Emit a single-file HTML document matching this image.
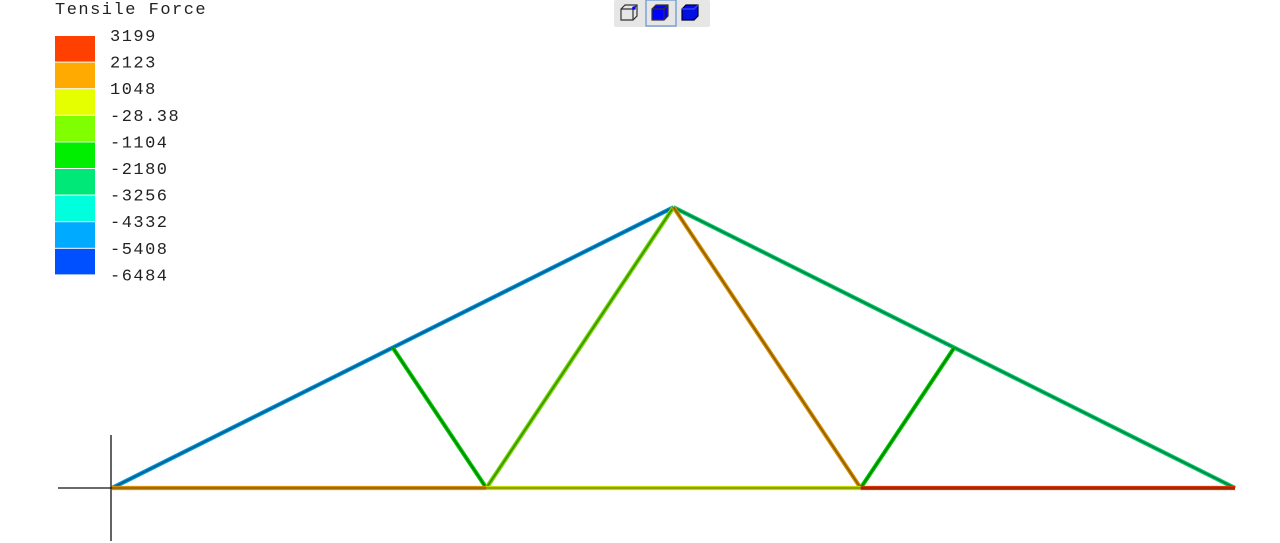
<!DOCTYPE html>
<html><head><meta charset="utf-8"><style>
html,body{margin:0;padding:0;background:#fff;width:1280px;height:543px;overflow:hidden}
svg{display:block}
text{font-family:"Liberation Mono",monospace;font-size:17px;letter-spacing:1.5px;fill:#222}
</style></head><body>
<svg id="chart" width="1280" height="543">
  <g>
    <rect x="614" y="0" width="96" height="27" fill="#e6e6e6" rx="2"/>
    <g>
      <path d="M621 9 L625 5 L637 5 L637 16 L633 20 L621 20 Z M621 9 L633 9 L637 5 M633 9 L633 20" fill="none" stroke="#333" stroke-width="1.2"/>
      <circle cx="634" cy="8" r="1.8" fill="#00f"/>
    </g>
    <g>
      <rect x="646" y="0" width="30" height="26" fill="none" stroke="#6a9ad0" stroke-width="1.3"/>
      <path d="M652 9 L656 5 L668 5 L668 16 L664 20 L652 20 Z" fill="#00f" stroke="#333" stroke-width="1.2"/>
      <path d="M652 9 L664 9 L668 5 M664 9 L664 20" fill="none" stroke="#333" stroke-width="1.2"/>
    </g>
    <g>
      <path d="M682 9 L686 5 L698 5 L698 16 L694 20 L682 20 Z" fill="#0010e0" stroke="#003" stroke-width="1.2"/>
      <path d="M682 9 L694 9 L698 5" fill="none" stroke="#44f" stroke-width="1.2"/>
    </g>
  </g>
  <text x="55" y="14">Tensile Force</text>
  <g id="legend"></g>
  <g>
    <line x1="111" y1="435" x2="111" y2="541" stroke="#111" stroke-width="1.3"/>
    <line x1="58" y1="488" x2="112" y2="488" stroke="#111" stroke-width="1.3"/>
  </g>
  <g id="members"></g>
</svg>
<script>
const legendLabels = ["3199","2123","1048","-28.38","-1104","-2180","-3256","-4332","-5408","-6484"];
const legendColors = ["#ff4000","#ffaa00","#e6ff00","#80ff00","#00ee00","#00e878","#00ffdd","#00aaff","#0050ff"];
const nodeX = [0, 3, 4, 6, 8, 9, 12];
const nodeY = [0, 1.5, 0, 3, 0, 1.5, 0];
const memberStart = [0, 1, 3, 5, 1, 2, 3, 3, 4, 0, 2, 4];
const memberEnd   = [1, 3, 5, 6, 2, 3, 2, 4, 5, 2, 4, 6];
const memberForce = [-5000, -4900, -3000, -3000, -1500, -100, -100, 1200, -1500, 1500, 500, 3000];
const memberName = ["top-chord-left-lower","top-chord-left-upper","top-chord-right-upper","top-chord-right-lower","web-left-outer","web-left-inner","web-left-inner-b","web-right-inner","web-right-outer","bottom-chord-left","bottom-chord-middle","bottom-chord-right"];

const NS="http://www.w3.org/2000/svg";
const sx = v => 112 + v*(1123/12);
const sy = v => 488 - v*(1123/12);
const fMax = 3199, fMin = -6484;
function colorOf(f){
  let i = Math.floor((fMax - f)/((fMax - fMin)/9));
  i = Math.max(0, Math.min(8, i));
  return legendColors[i];
}
function darken(hex, k){
  const n=parseInt(hex.slice(1),16);
  const r=Math.round(((n>>16)&255)*k), g=Math.round(((n>>8)&255)*k), b=Math.round((n&255)*k);
  return `rgb(${r},${g},${b})`;
}
const lg=document.getElementById('legend');
legendColors.forEach((c,i)=>{
  const r=document.createElementNS(NS,'rect');
  r.setAttribute('x',55); r.setAttribute('y',36+i*26.6);
  r.setAttribute('width',40); r.setAttribute('height',25.6); r.setAttribute('fill',c);
  
  
  lg.appendChild(r);
});
legendLabels.forEach((t,i)=>{
  const e=document.createElementNS(NS,'text');
  e.setAttribute('x',110); e.setAttribute('y',41+i*26.6);
  e.textContent=t;
  
  
  lg.appendChild(e);
});
const mg=document.getElementById('members');
memberStart.forEach((s,i)=>{
  const e=memberEnd[i], c=colorOf(memberForce[i]);
  const g=document.createElementNS(NS,'g');
  
  
  [[4.2,darken(c,0.85)],[1.6,darken(c,0.55)]].forEach(([w,col])=>{
    const l=document.createElementNS(NS,'line');
    l.setAttribute('x1',sx(nodeX[s])); l.setAttribute('y1',sy(nodeY[s]));
    l.setAttribute('x2',sx(nodeX[e])); l.setAttribute('y2',sy(nodeY[e]));
    l.setAttribute('stroke',col); l.setAttribute('stroke-width',w);
    g.appendChild(l);
  });
  mg.appendChild(g);
});
</script>
</body></html>
